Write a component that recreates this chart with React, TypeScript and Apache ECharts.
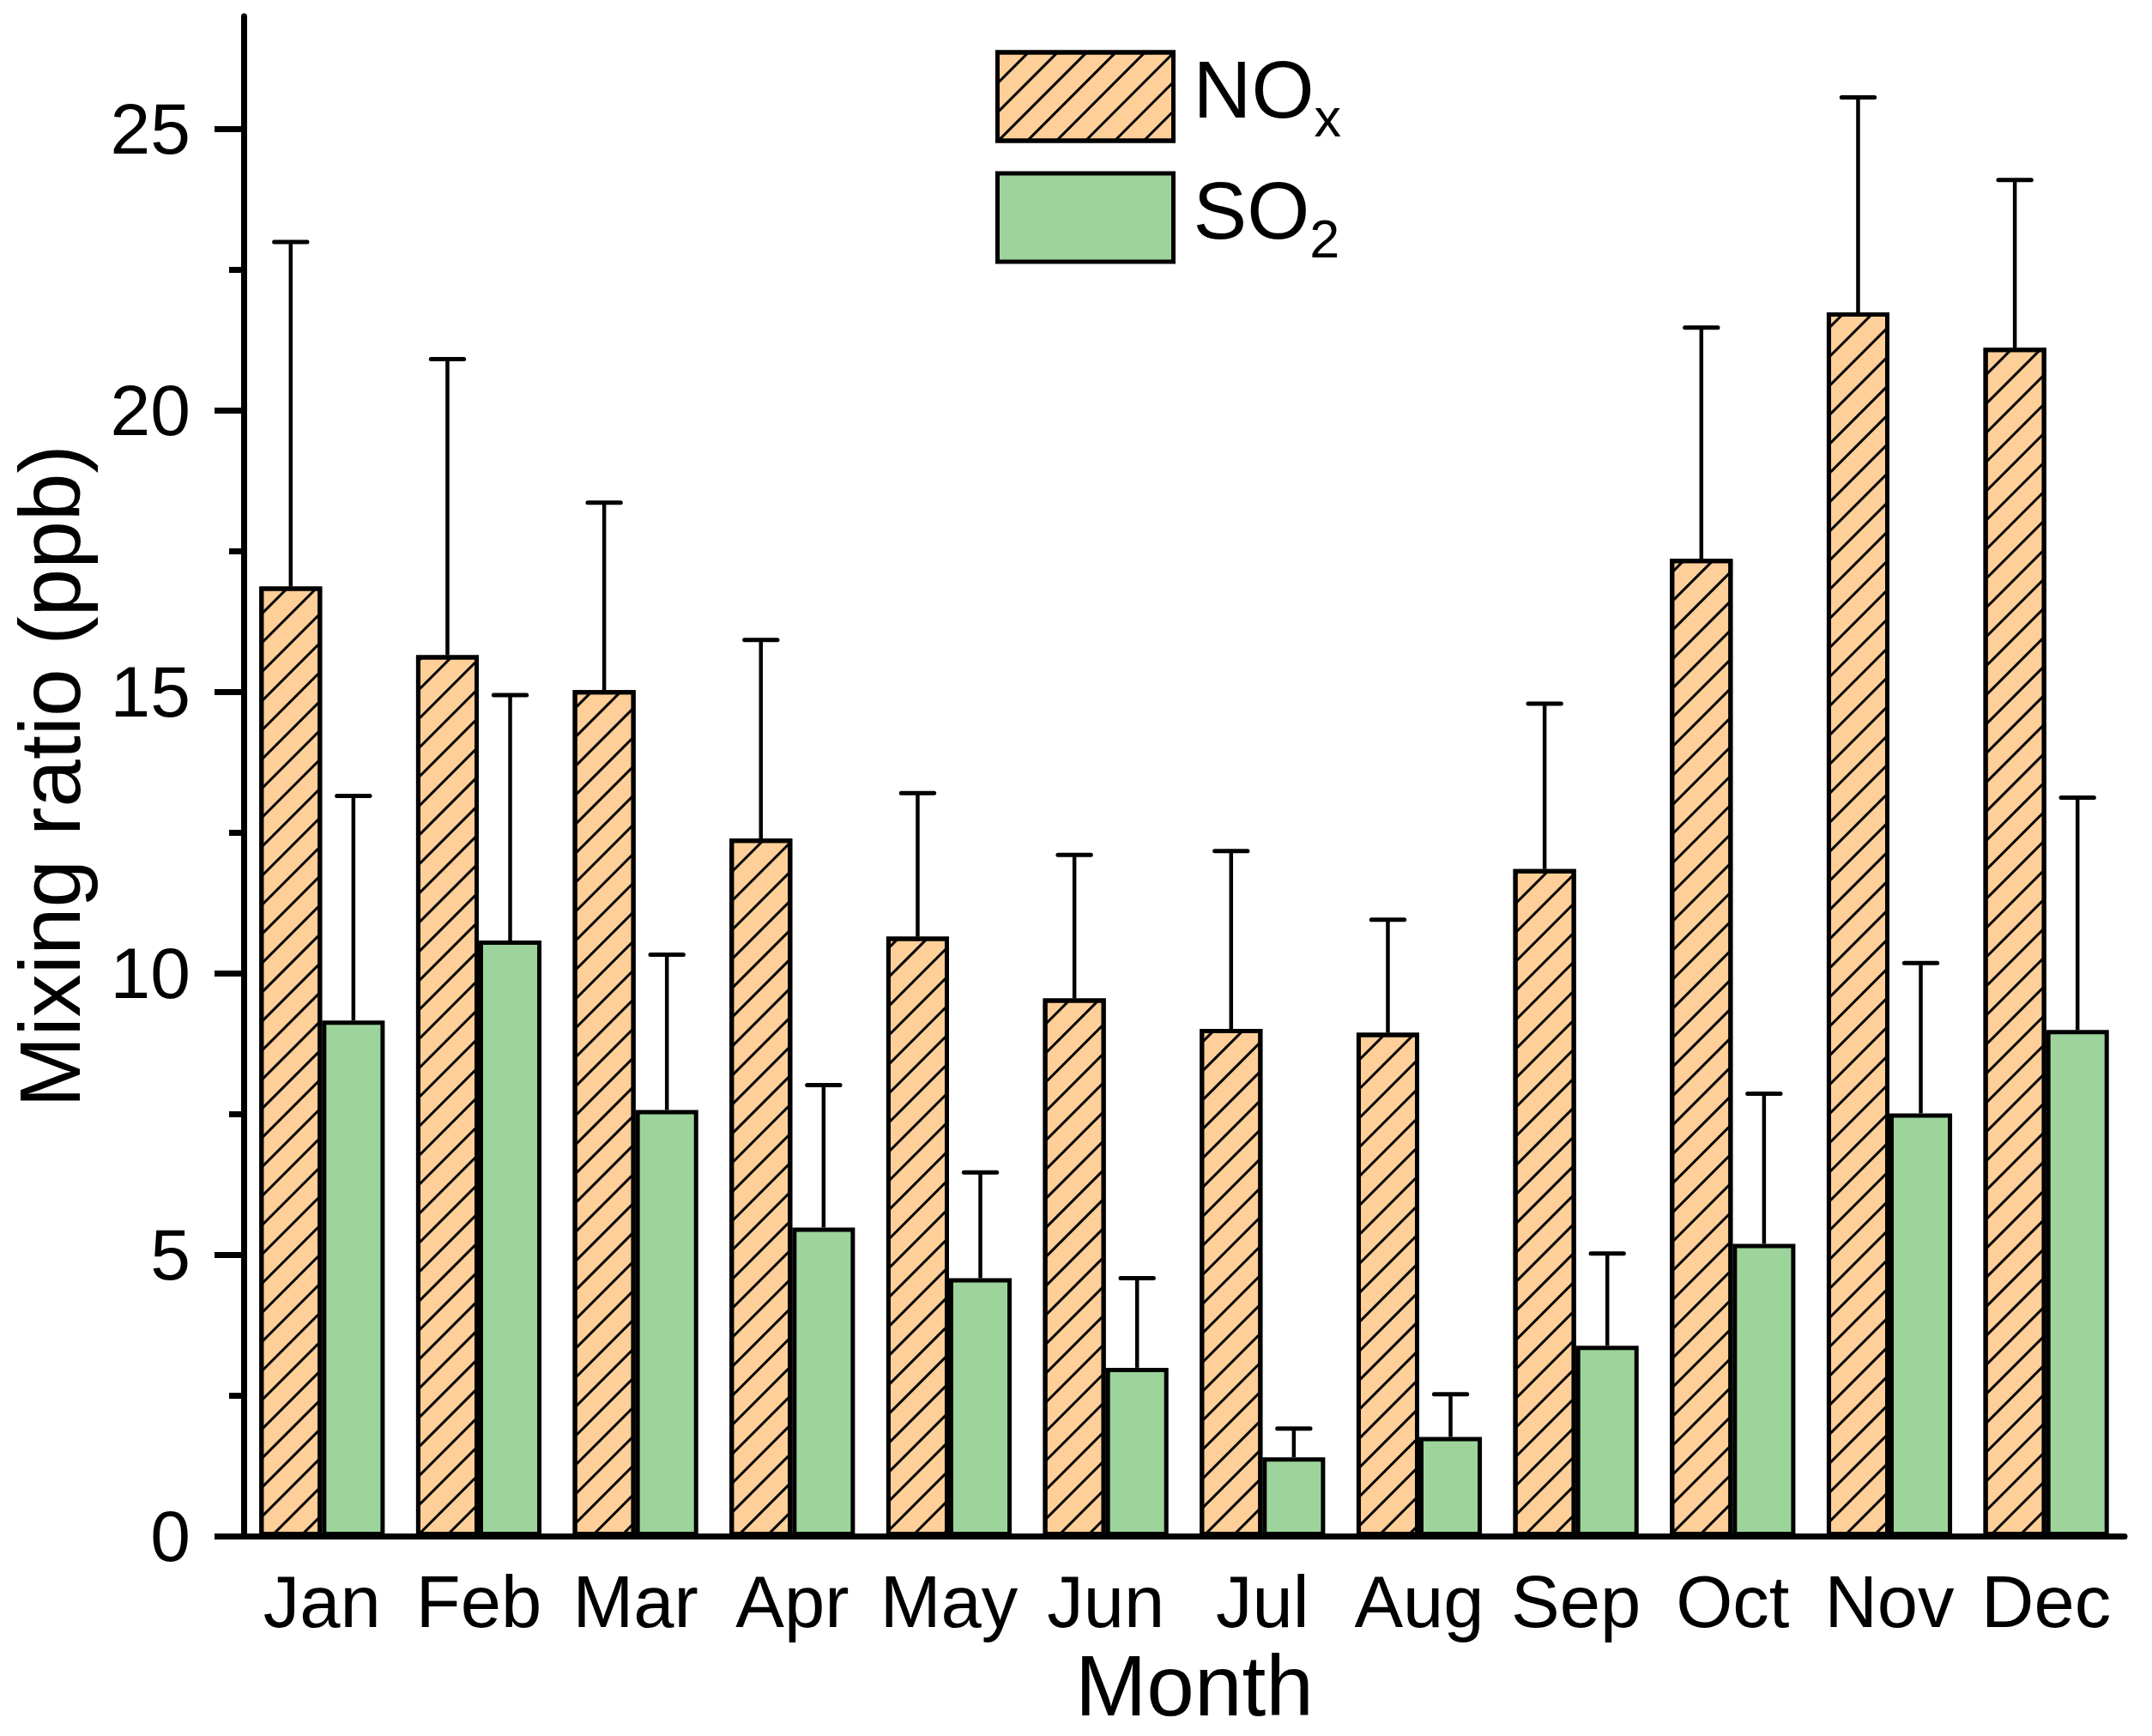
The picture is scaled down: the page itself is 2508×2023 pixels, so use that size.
import React, { useEffect, useRef } from "react";
import * as echarts from "echarts";

const months = ["Jan", "Feb", "Mar", "Apr", "May", "Jun", "Jul", "Aug", "Sep", "Oct", "Nov", "Dec"];
const noxMean = [16.87, 15.65, 15.03, 12.39, 10.65, 9.55, 9.01, 8.94, 11.85, 17.36, 21.74, 21.11];
const noxSd = [6.12, 5.26, 3.33, 3.53, 2.55, 2.55, 3.16, 2.01, 2.94, 4.11, 3.82, 2.98];
const so2Mean = [9.16, 10.58, 7.57, 5.48, 4.58, 2.99, 1.4, 1.76, 3.38, 5.19, 7.51, 8.99];
const so2Sd = [3.99, 4.36, 2.76, 2.53, 1.88, 1.59, 0.51, 0.76, 1.64, 2.67, 2.67, 4.13];
const majorTicks = [0, 5, 10, 15, 20, 25];
const minorTicks = [2.5, 7.5, 12.5, 17.5, 22.5];

const FONT = "'Liberation Sans', Arial, sans-serif";
const ORANGE = "#FECF98";
const GREEN = "#9DD49B";

const hatch = {
  symbol: "rect",
  symbolSize: 1,
  dashArrayX: [1, 0],
  dashArrayY: [2.5, 20.6],
  rotation: -Math.PI / 4,
  color: "#000",
};

function errRender(offset: number) {
  return (params: any, api: any) => {
    const i = api.value(0);
    const v = api.value(1);
    const e = api.value(2);
    const p0 = api.coord([i, v]);
    const p1 = api.coord([i, v + e]);
    const bw = api.size([1, 0])[0];
    const x = p0[0] + offset * bw;
    const cap = bw * 0.105;
    return {
      type: "group",
      children: [
        {
          type: "line",
          shape: { x1: x, y1: p0[1], x2: x, y2: p1[1] },
          style: { stroke: "#000", lineWidth: 4.5 },
        },
        {
          type: "line",
          shape: { x1: x - cap, y1: p1[1], x2: x + cap, y2: p1[1] },
          style: { stroke: "#000", lineWidth: 5, lineCap: "round" },
        },
      ],
    };
  };
}

export default function App() {
  const ref = useRef<HTMLDivElement>(null);
  useEffect(() => {
    if (!ref.current) return;
    const chart = echarts.init(ref.current, null, { renderer: "svg" });
    const option: any = {
      animation: false,
      backgroundColor: "#fff",
      textStyle: { fontFamily: FONT },
      grid: { left: 282, right: 32, top: 19, bottom: 233, containLabel: false },
      legend: {
        orient: "vertical",
        left: 1160,
        top: 57,
        padding: 0,
        itemWidth: 205,
        itemHeight: 103,
        itemGap: 30,
        icon: "rect",
        data: [
          { name: "NOx", itemStyle: { color: ORANGE, borderColor: "#000", borderWidth: 5, decal: hatch } },
          { name: "SO2", itemStyle: { color: GREEN, borderColor: "#000", borderWidth: 5 } },
        ],
        formatter: (name: string) => (name === "NOx" ? "{a|NO}{b|x}" : "{a|SO}{b|2}"),
        textStyle: {
          fontFamily: FONT,
          color: "#000",
          padding: [0, 0, 0, 18],
          rich: {
            a: { fontSize: 94, fontFamily: FONT, color: "#000", verticalAlign: "bottom", padding: [0, 0, 17, 0] },
            b: { fontSize: 63, fontFamily: FONT, color: "#000", verticalAlign: "bottom" },
          },
        },
      },
      xAxis: {
        type: "category",
        data: months,
        name: "Month",
        nameLocation: "middle",
        nameGap: 118,
        nameTextStyle: { fontSize: 100, color: "#000", fontFamily: FONT, padding: [0, 0, 0, 24] },
        axisLine: { lineStyle: { color: "#000", width: 7 } },
        axisTick: { alignWithLabel: true, interval: 0, length: 34, lineStyle: { color: "#000", width: 7 } },
        axisLabel: { fontSize: 85, color: "#000", margin: 34, interval: 0, fontFamily: FONT },
      },
      yAxis: [
        {
          type: "value",
          position: "left",
          min: 0,
          max: 27,
          interval: 5,
          name: "Mixing ratio (ppb)",
          nameLocation: "middle",
          nameGap: 176,
          nameTextStyle: { fontSize: 100, color: "#000", fontFamily: FONT },
          axisLine: { show: true, lineStyle: { color: "#000", width: 7 } },
          axisTick: { show: true, length: 34, customValues: majorTicks, lineStyle: { color: "#000", width: 7 } },
          axisLabel: { fontSize: 84, color: "#000", margin: 62, customValues: majorTicks, fontFamily: FONT },
          splitLine: { show: false },
        },
        {
          type: "value",
          position: "left",
          min: 0,
          max: 27,
          interval: 2.5,
          axisLine: { show: false },
          axisTick: { show: true, length: 17, customValues: minorTicks, lineStyle: { color: "#000", width: 7 } },
          axisLabel: { show: false },
          splitLine: { show: false },
        },
      ],
      series: [
        {
          name: "NOx",
          type: "bar",
          data: noxMean,
          barWidth: "40%",
          barGap: "0%",
          itemStyle: { color: ORANGE, borderColor: "#000", borderWidth: 5, decal: hatch },
          z: 2,
        },
        {
          name: "SO2",
          type: "bar",
          data: so2Mean,
          barWidth: "40%",
          barGap: "0%",
          itemStyle: { color: GREEN, borderColor: "#000", borderWidth: 5 },
          z: 2,
        },
        {
          name: "NOx err",
          type: "custom",
          data: noxMean.map((v, i) => [i, v, noxSd[i]]),
          renderItem: errRender(-0.2),
          z: 3,
          silent: true,
        },
        {
          name: "SO2 err",
          type: "custom",
          data: so2Mean.map((v, i) => [i, v, so2Sd[i]]),
          renderItem: errRender(0.2),
          z: 3,
          silent: true,
        },
      ],
    };
    chart.setOption(option);
    return () => chart.dispose();
  }, []);
  return (
    <div
      ref={ref}
      style={{ position: "absolute", left: 0, top: 0, width: 2508, height: 2023, background: "#fff" }}
    />
  );
}
